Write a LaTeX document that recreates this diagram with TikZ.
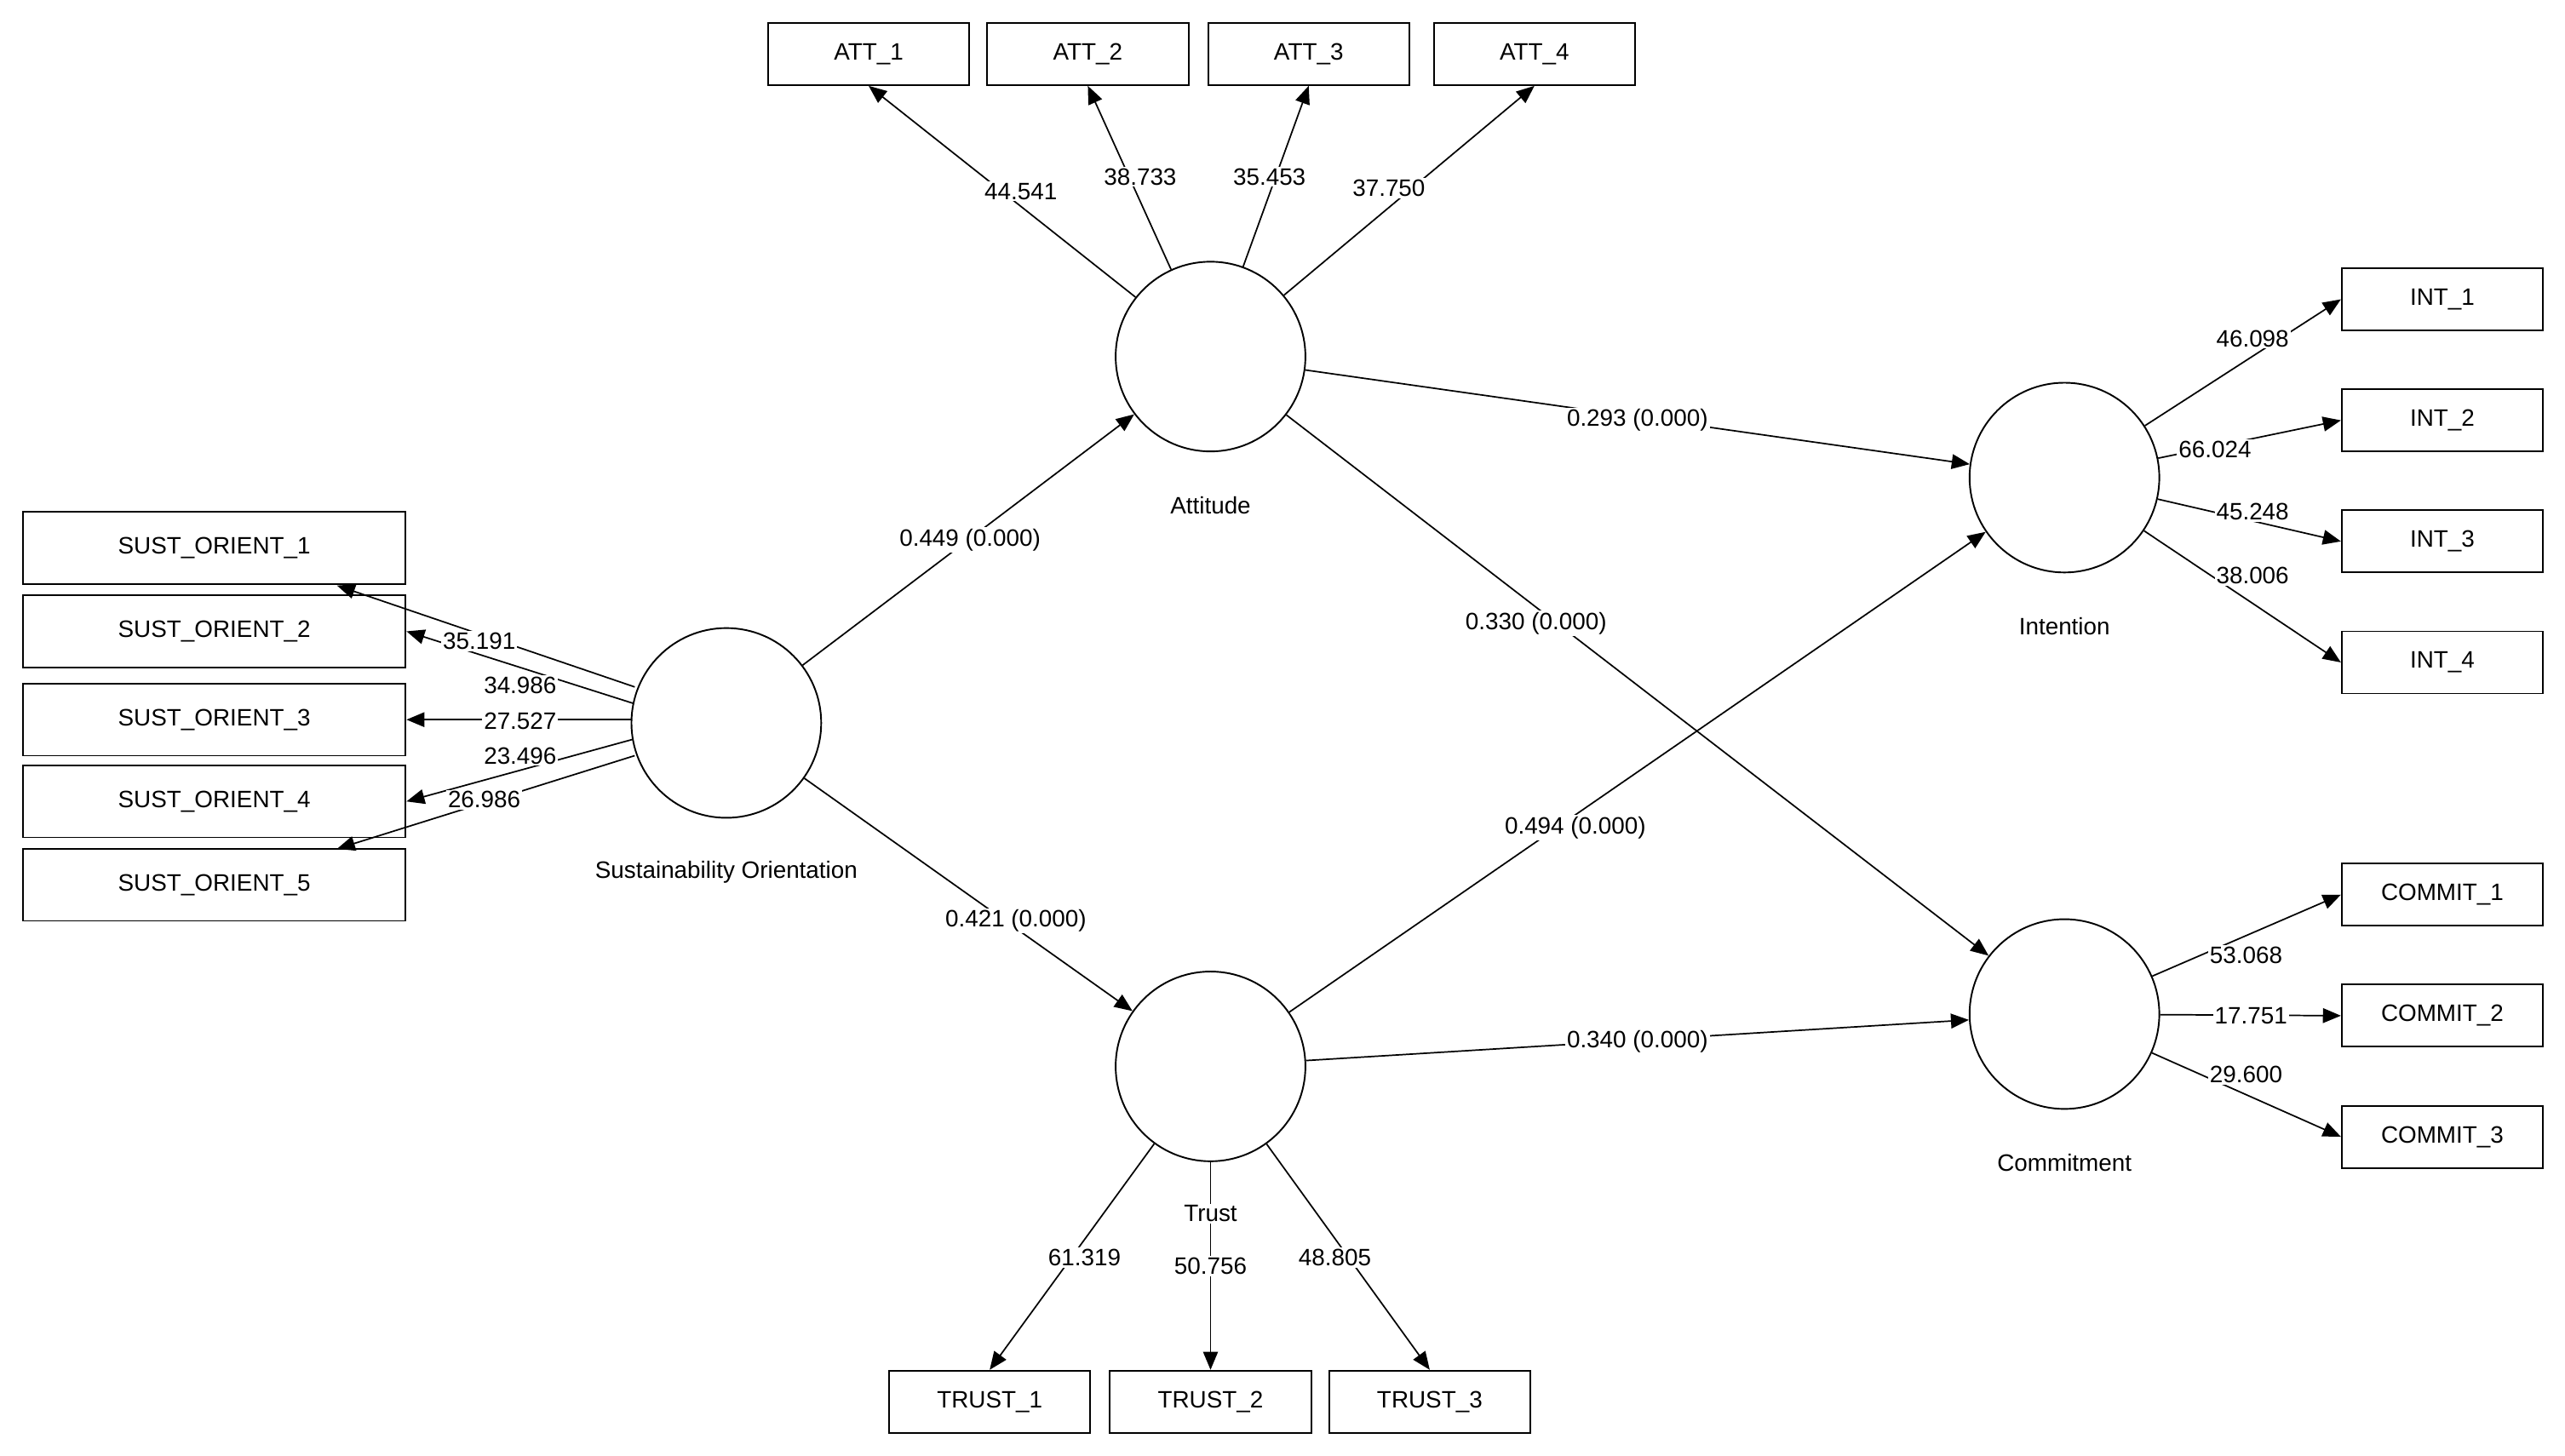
\documentclass[tikz,border=0pt]{standalone}
\usepackage{fontspec}
\setmainfont{Liberation Sans}
\usetikzlibrary{arrows.meta}
\begin{document}
\begin{tikzpicture}[x=1pt,y=-1pt,
  font=\fontsize{14.5}{16}\selectfont,
  box/.style={draw,line width=1pt,minimum height=38pt,inner sep=0pt},
  lat/.style={draw,circle,line width=1pt,minimum size=116pt,inner sep=0pt},
  ar/.style={line width=0.9pt,-{Triangle[length=11pt,width=9pt]}},
  lb/.style={fill=white,inner sep=1pt}]
\useasboundingbox (0,0) rectangle (1568,890);
% boxes
\foreach \n/\x in {1/531,2/665,3/800,4/938}
  \node[box,minimum width=123pt] (A\n) at (\x,33) {ATT\_\n};
\foreach \n/\y in {1/183,2/257,3/331,4/405}
  \node[box,minimum width=123pt] (I\n) at (1493,\y) {INT\_\n};
\foreach \n/\y in {1/547,2/621,3/695}
  \node[box,minimum width=123pt] (C\n) at (1493,\y) {COMMIT\_\n};
\foreach \n/\x in {1/605,2/740,3/874}
  \node[box,minimum width=123pt] (T\n) at (\x,857) {TRUST\_\n};
\foreach \n/\y in {1/335,2/386,3/440,4/490,5/541}
  \node[box,minimum width=234pt,minimum height=44pt] (S\n) at (131,\y) {SUST\_ORIENT\_\n};
% latent
\node[lat] (att) at (740,218) {};
\node[lat] (int) at (1262,292) {};
\node[lat] (com) at (1262,620) {};
\node[lat] (tru) at (740,652) {};
\node[lat] (so) at (444,442) {};
\node at (740,309) {Attitude};
\node at (1262,383) {Intention};
\node at (1262,711) {Commitment};
\node at (444,533) {Sustainability Orientation};
% structural paths
\draw[ar] (so) -- (att);
\draw[ar] (att) -- (int);
\draw[ar] (att) -- (com);
\draw[ar] (tru) -- (int);
\draw[ar] (so) -- (tru);
\draw[ar] (tru) -- (com);
\node[lb] at (593,330) {0.449 (0.000)};
\node[lb] at (1001,257) {0.293 (0.000)};
\node[lb] at (939,381) {0.330 (0.000)};
\node[lb] at (963,506) {0.494 (0.000)};
\node[lb] at (621,563) {0.421 (0.000)};
\node[lb] at (1001,637) {0.340 (0.000)};
% loadings
\foreach \n in {1,2,3,4} \draw[ar] (att) -- (A\n.south);
\foreach \n in {1,2,3,4} \draw[ar] (int) -- (I\n.west);
\foreach \n in {1,2,3} \draw[ar] (com) -- (C\n.west);
\foreach \n in {1,2,3} \draw[ar] (tru) -- (T\n.north);
\coordinate (e1) at (206,358);
\coordinate (e5) at (206,519);
\coordinate (s1) at (388,420);
\coordinate (s2) at (387,430);
\coordinate (s3) at (386,440);
\coordinate (s4) at (387,452);
\coordinate (s5) at (388,462);
\draw[ar] (s1) -- (e1);
\draw[ar] (s2) -- (S2.east);
\draw[ar] (s3) -- (S3.east);
\draw[ar] (s4) -- (S4.east);
\draw[ar] (s5) -- (e5);
\node[lb] at (624,117) {44.541};
\node[lb] at (697,108) {38.733};
\node[lb] at (776,108) {35.453};
\node[lb] at (849,115) {37.750};
\node[lb] at (1377,207) {46.098};
\node[lb] at (1354,275) {66.024};
\node[lb] at (1377,313) {45.248};
\node[lb] at (1377,352) {38.006};
\node[lb] at (1373,584) {53.068};
\node[lb] at (1376,621) {17.751};
\node[lb] at (1373,657) {29.600};
\node[lb] at (740,742) {Trust};
\node[lb] at (663,769) {61.319};
\node[lb] at (740,774) {50.756};
\node[lb] at (816,769) {48.805};
\node[lb] at (293,392) {35.191};
\node[lb] at (318,419) {34.986};
\node[lb] at (318,441) {27.527};
\node[lb] at (318,462) {23.496};
\node[lb] at (296,489) {26.986};
\end{tikzpicture}
\end{document}
